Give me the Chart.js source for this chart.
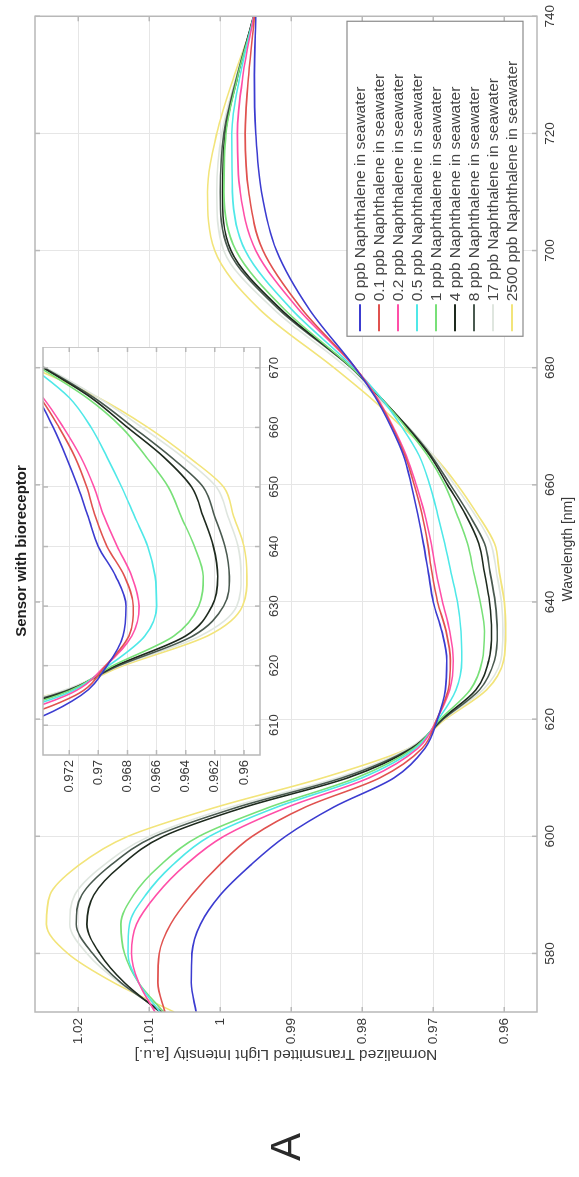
<!DOCTYPE html>
<html>
<head>
<meta charset="utf-8">
<script src="https://cdn.jsdelivr.net/npm/chart.js@4.4.0/dist/chart.umd.min.js"></script>
<style>
  html, body { margin: 0; padding: 0; background: #fff; width: 579px; height: 1177px; overflow: hidden; }
  /* the whole figure is laid out landscape and turned a quarter turn */
  #fig { position: absolute; left: 0; top: 0; width: 1177px; height: 579px;
         transform-origin: 0 0; transform: translateY(1177px) rotate(-90deg);
         font-family: "Liberation Sans", Arial, sans-serif; }
  #main { position: absolute; left: 0; top: 0; }
  #inset { position: absolute; left: 340px; top: 0; }
  #panel { position: absolute; left: 0; top: 262px; width: 60px; text-align: center;
           font-size: 42px; line-height: 48px; color: #2a2a2a; }
</style>
</head>
<body>
<div id="fig">
  <canvas id="main" width="1177" height="579"></canvas>
  <canvas id="inset" width="490" height="293"></canvas>
  <div id="panel">A</div>
</div>
<script>
// wavelength samples [nm]
const wavelengths = [570, 575, 580, 585, 590, 595, 600, 605, 610, 615, 620, 625, 630, 635, 640, 645, 650, 655, 660, 665, 670, 675, 680, 690, 700, 710, 720, 730, 740];

// normalized transmitted intensity, one list per concentration
const ppb0    = [1.0034, 1.0041, 1.0040, 1.0028, 1.0000, 0.9958, 0.9908, 0.9840, 0.9755, 0.9712, 0.9694, 0.9683, 0.9681, 0.9688, 0.9700, 0.9707, 0.9714, 0.9722, 0.9731, 0.9742, 0.9760, 0.9782, 0.9810, 0.9875, 0.9921, 0.9942, 0.9950, 0.9952, 0.9950];
const ppb01   = [1.0078, 1.0088, 1.0086, 1.0070, 1.0040, 1.0002, 0.9955, 0.9880, 0.9775, 0.9716, 0.9695, 0.9679, 0.9676, 0.9682, 0.9694, 0.9702, 0.9708, 0.9716, 0.9727, 0.9740, 0.9758, 0.9781, 0.9810, 0.9885, 0.9940, 0.9960, 0.9965, 0.9960, 0.9952];
const ppb02   = [1.0092, 1.0115, 1.0125, 1.0118, 1.0090, 1.0050, 0.9995, 0.9905, 0.9790, 0.9722, 0.9695, 0.9677, 0.9672, 0.9677, 0.9687, 0.9696, 0.9703, 0.9712, 0.9724, 0.9738, 0.9757, 0.9780, 0.9810, 0.9890, 0.9950, 0.9972, 0.9976, 0.9968, 0.9953];
const ppb05   = [1.0085, 1.0115, 1.0130, 1.0128, 1.0105, 1.0068, 1.0015, 0.9920, 0.9800, 0.9725, 0.9693, 0.9668, 0.9660, 0.9661, 0.9666, 0.9675, 0.9684, 0.9694, 0.9705, 0.9720, 0.9745, 0.9775, 0.9812, 0.9900, 0.9965, 0.9983, 0.9984, 0.9972, 0.9953];
const ppb1    = [1.0080, 1.0115, 1.0135, 1.0140, 1.0122, 1.0085, 1.0030, 0.9930, 0.9808, 0.9728, 0.9690, 0.9648, 0.9631, 0.9628, 0.9634, 0.9643, 0.9652, 0.9667, 0.9684, 0.9708, 0.9740, 0.9775, 0.9815, 0.9910, 0.9978, 0.9995, 0.9992, 0.9975, 0.9952];
const ppb4    = [1.0085, 1.0135, 1.0170, 1.0188, 1.0178, 1.0140, 1.0080, 0.9965, 0.9820, 0.9730, 0.9688, 0.9640, 0.9622, 0.9618, 0.9621, 0.9628, 0.9636, 0.9655, 0.9680, 0.9705, 0.9738, 0.9775, 0.9815, 0.9915, 0.9985, 0.9997, 0.9993, 0.9975, 0.9953];
const ppb8    = [1.0082, 1.0140, 1.0180, 1.0203, 1.0195, 1.0155, 1.0092, 0.9975, 0.9828, 0.9732, 0.9686, 0.9635, 0.9614, 0.9610, 0.9613, 0.9620, 0.9628, 0.9650, 0.9676, 0.9703, 0.9737, 0.9776, 0.9816, 0.9918, 0.9988, 1.0000, 0.9995, 0.9976, 0.9953];
const ppb17   = [1.0078, 1.0142, 1.0188, 1.0212, 1.0205, 1.0165, 1.0100, 0.9985, 0.9835, 0.9735, 0.9685, 0.9630, 0.9605, 0.9602, 0.9604, 0.9611, 0.9619, 0.9642, 0.9670, 0.9700, 0.9736, 0.9780, 0.9822, 0.9925, 0.9995, 1.0005, 0.9998, 0.9977, 0.9953];
const ppb2500 = [1.0065, 1.0150, 1.0215, 1.0245, 1.0240, 1.0200, 1.0130, 1.0005, 0.9855, 0.9735, 0.9683, 0.9625, 0.9601, 0.9598, 0.9600, 0.9607, 0.9614, 0.9638, 0.9666, 0.9700, 0.9745, 0.9790, 0.9840, 0.9945, 1.0008, 1.0018, 1.0005, 0.9980, 0.9950];

const seriesLabels = [
  "0 ppb Naphthalene in seawater",
  "0.1 ppb Naphthalene in seawater",
  "0.2 ppb Naphthalene in seawater",
  "0.5 ppb Naphthalene in seawater",
  "1 ppb Naphthalene in seawater",
  "4 ppb Naphthalene in seawater",
  "8 ppb Naphthalene in seawater",
  "17 ppb Naphthalene in seawater",
  "2500 ppb Naphthalene in seawater",
];
const seriesValues = [ppb0, ppb01, ppb02, ppb05, ppb1, ppb4, ppb8, ppb17, ppb2500];
const seriesColors = ["#3c3cd0", "#e0524f", "#ff4fa8", "#4fe8e8", "#78e078", "#1e2a1e", "#4a5a50", "#dfe6df", "#f2e47a"];

// tick labels
const mainXTicks = [580, 600, 620, 640, 660, 680, 700, 720, 740];
const mainYTicks = [0.96, 0.97, 0.98, 0.99, 1, 1.01, 1.02];
const insetXTicks = [610, 620, 630, 640, 650, 660, 670];
const insetYTicks = [0.96, 0.962, 0.964, 0.966, 0.968, 0.97, 0.972];

const txt = "#3a3a3a";
const fam = "'Liberation Sans', Arial, sans-serif";

function makeDatasets() {
  return seriesValues.map((vals, i) => ({
    label: seriesLabels[i],
    data: wavelengths.map((w, k) => ({ x: w, y: vals[k] })),
    borderColor: seriesColors[i],
    backgroundColor: seriesColors[i],
    borderWidth: 1.6,
    pointRadius: 0,
    cubicInterpolationMode: "monotone",
    fill: false,
  }));
}

function fmt(v) {
  return String(+v.toFixed(3));
}

// white plot background + grey box with inward ticks, matlab style
const boxPlugin = {
  id: "box",
  beforeDraw(chart) {
    const { ctx, chartArea: a } = chart;
    ctx.save();
    ctx.fillStyle = "#fff";
    ctx.fillRect(a.left, a.top, a.right - a.left, a.bottom - a.top);
    ctx.restore();
  },
  afterDatasetsDraw(chart) {
    const { ctx, chartArea: a, scales } = chart;
    ctx.save();
    ctx.strokeStyle = "#b8b8b8";
    ctx.lineWidth = 1.5;
    ctx.strokeRect(a.left, a.top, a.right - a.left, a.bottom - a.top);
    ctx.beginPath();
    scales.x.ticks.forEach((t) => {
      const px = scales.x.getPixelForValue(t.value);
      ctx.moveTo(px, a.bottom); ctx.lineTo(px, a.bottom - 5);
      ctx.moveTo(px, a.top); ctx.lineTo(px, a.top + 5);
    });
    scales.y.ticks.forEach((t) => {
      const py = scales.y.getPixelForValue(t.value);
      ctx.moveTo(a.left, py); ctx.lineTo(a.left + 5, py);
      ctx.moveTo(a.right, py); ctx.lineTo(a.right - 5, py);
    });
    ctx.stroke();
    ctx.restore();
  },
};

// legend box in the lower right corner of the main axes,
// plus the x label which sits a bit left of the axes centre in the original
const legendBox = {
  id: "legendBox",
  afterDraw(chart) {
    const { ctx, chartArea: a } = chart;
    const sets = chart.data.datasets;
    const rowH = 19;
    const w = 315, h = sets.length * rowH + 5;
    const x0 = a.right - 5 - w, y0 = a.bottom - 14 - h;
    ctx.save();
    ctx.fillStyle = "#fff";
    ctx.fillRect(x0, y0, w, h);
    ctx.strokeStyle = "#8a8a8a";
    ctx.lineWidth = 1.2;
    ctx.strokeRect(x0, y0, w, h);
    ctx.font = "15.5px " + fam;
    ctx.textBaseline = "middle";
    sets.forEach((ds, i) => {
      const yy = y0 + 13 + i * rowH;
      ctx.strokeStyle = ds.borderColor;
      ctx.lineWidth = 2;
      ctx.beginPath();
      ctx.moveTo(x0 + 5, yy); ctx.lineTo(x0 + 32, yy);
      ctx.stroke();
      ctx.fillStyle = "#444";
      ctx.fillText(ds.label, x0 + 35, yy + 1);
    });

    ctx.font = "14px " + fam;
    ctx.fillStyle = txt;
    ctx.textAlign = "center";
    ctx.fillText("Wavelength [nm]", (a.left + a.right) / 2 - 35, 568);
    ctx.restore();
  },
};

new Chart(document.getElementById("main"), {
  type: "line",
  data: { datasets: makeDatasets() },
  options: {
    responsive: false,
    animation: false,
    devicePixelRatio: 1,
    layout: { padding: { top: 35, right: 15, left: 0, bottom: 0 } },
    plugins: { legend: { display: false }, tooltip: { enabled: false }, title: { display: false } },
    scales: {
      x: {
        type: "linear",
        min: 570,
        max: 740,
        afterBuildTicks: (s) => { s.ticks = mainXTicks.map((v) => ({ value: v })); },
        afterFit: (s) => { s.height = 42; },
        grid: { color: "#e6e6e6", drawTicks: false },
        border: { display: false },
        ticks: { padding: 5, color: txt, font: { family: fam, size: 13.5 }, callback: (v) => fmt(v) },
      },
      y: {
        min: 0.9554,
        max: 1.0261,
        afterBuildTicks: (s) => { s.ticks = mainYTicks.map((v) => ({ value: v })); },
        afterFit: (s) => { s.width = 165; },
        grid: { color: "#e6e6e6", drawTicks: false },
        border: { display: false },
        ticks: { padding: 6, color: txt, font: { family: fam, size: 13.5 }, callback: (v) => fmt(v) },
        title: { display: true, text: "Normalized Transmitted Light Intensity [a.u.]", color: txt, font: { family: fam, size: 15.5 }, padding: { top: 113, bottom: 0 } },
      },
    },
  },
  plugins: [boxPlugin, legendBox],
});

new Chart(document.getElementById("inset"), {
  type: "line",
  data: { datasets: makeDatasets() },
  options: {
    responsive: false,
    animation: false,
    devicePixelRatio: 1,
    layout: { padding: 0 },
    plugins: {
      legend: { display: false },
      tooltip: { enabled: false },
      title: {
        display: true,
        fullSize: false,
        text: "Sensor with bioreceptor",
        color: "#1e1e1e",
        font: { family: fam, size: 15, weight: "bold" },
        padding: { top: 13, bottom: 12 },
      },
    },
    scales: {
      x: {
        type: "linear",
        min: 605,
        max: 673.5,
        afterBuildTicks: (s) => { s.ticks = insetXTicks.map((v) => ({ value: v })); },
        afterFit: (s) => { s.height = 33; },
        grid: { color: "#e6e6e6", drawTicks: false },
        border: { display: false },
        ticks: { padding: 7, color: txt, font: { family: fam, size: 13 }, callback: (v) => fmt(v) },
      },
      y: {
        min: 0.9589,
        max: 0.9738,
        afterBuildTicks: (s) => { s.ticks = insetYTicks.map((v) => ({ value: v })); },
        afterFit: (s) => { s.width = 82; },
        grid: { color: "#e6e6e6", drawTicks: false },
        border: { display: false },
        ticks: { padding: 5, color: txt, font: { family: fam, size: 13 }, callback: (v) => fmt(v) },
      },
    },
  },
  plugins: [boxPlugin],
});
</script>
</body>
</html>
